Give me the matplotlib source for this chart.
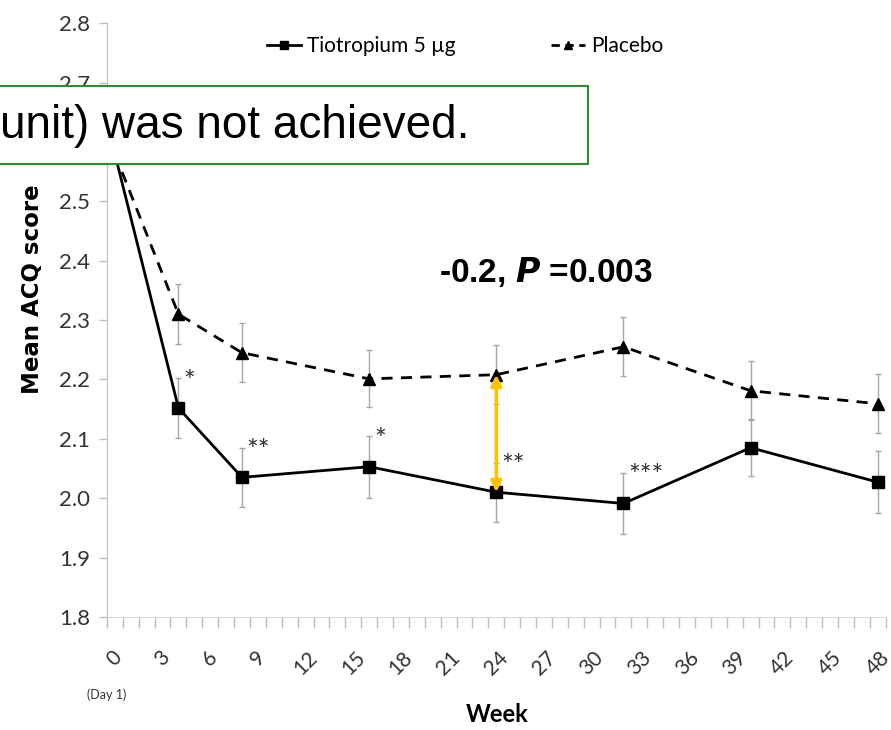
import numpy as np
import matplotlib
matplotlib.use("Agg")
import matplotlib.pyplot as plt
from matplotlib.patches import Rectangle
from matplotlib.lines import Line2D
from matplotlib.ticker import FixedLocator

# ACQ score over the 48-week treatment period
weeks = [0, 4, 8, 16, 24, 32, 40, 48]
tiotropium = [2.58, 2.152, 2.035, 2.053, 2.010, 1.991, 2.085, 2.027]
placebo = [2.58, 2.310, 2.245, 2.201, 2.208, 2.255, 2.181, 2.159]
tio_se = [0, 0.05, 0.05, 0.052, 0.05, 0.052, 0.048, 0.052]
pla_se = [0, 0.05, 0.05, 0.048, 0.05, 0.05, 0.05, 0.05]

# significance marks next to the tiotropium error bars
star_weeks = [4, 8, 16, 24, 32]
star_labels = ["*", "**", "*", "**", "***"]

tick_weeks = list(range(0, 49, 3))
diff_text_week = 24

narrow = ["Liberation Sans Narrow", "Lato", "DejaVu Sans"]

fig = plt.figure(figsize=(8.91, 7.30), dpi=100)
ax = fig.add_axes([0.120, 0.155, 0.874, 0.813])

ax.errorbar(weeks, placebo, yerr=pla_se, fmt="none", ecolor="#a6a6a6",
            elinewidth=1.0, capsize=2.5, capthick=1.0, zorder=2)
ax.errorbar(weeks, tiotropium, yerr=tio_se, fmt="none", ecolor="#a6a6a6",
            elinewidth=1.0, capsize=2.5, capthick=1.0, zorder=2)
ax.plot(weeks, placebo, color="black", lw=2.0, ls=(0, (4, 3)),
        marker="^", ms=8, zorder=3)
ax.plot(weeks, tiotropium, color="black", lw=2.0, marker="s", ms=8, zorder=3)

for w, s in zip(star_weeks, star_labels):
    i = weeks.index(w)
    ax.text(w + 0.3, tiotropium[i] + tio_se[i] - 0.008, s, fontsize=20,
            color="#333333", ha="left", va="center", family=narrow)

# difference at week 24
i24 = weeks.index(diff_text_week)
ax.annotate("", xy=(diff_text_week, tiotropium[i24]),
            xytext=(diff_text_week, placebo[i24]),
            arrowprops=dict(arrowstyle="<|-|>", color="#FFC000", lw=2.5,
                            mutation_scale=16, shrinkA=0, shrinkB=0),
            zorder=4)
fig.text(0.493, 0.627, r"-0.2, $\mathbfit{P}$ =0.003", fontsize=24,
         fontweight="bold", family=["Liberation Sans", "DejaVu Sans"],
         ha="left", va="center")

ax.set_xlim(-0.5, 48.5)
ax.set_ylim(1.8, 2.8)
ax.set_yticks(np.arange(1.8, 2.81, 0.1))
ax.set_yticklabels([f"{v:.1f}" for v in np.arange(1.8, 2.81, 0.1)],
                   family=narrow, fontsize=16, color="#333333")
ax.set_xticks(tick_weeks)
ax.set_xticklabels([str(w) for w in tick_weeks], rotation=45,
                   family=narrow, fontsize=15, color="#333333",
                   ha="center", va="top")
ax.tick_params(axis="x", which="major", length=0, pad=22)
ax.xaxis.set_minor_locator(FixedLocator(np.arange(-0.5, 48.6, 1.0)))
ax.tick_params(axis="x", which="minor", length=8, color="#bfbfbf", width=1)
ax.tick_params(axis="y", length=6, color="#bfbfbf", width=1, pad=6)

for side in ["top", "right"]:
    ax.spines[side].set_visible(False)
ax.spines["left"].set_color("#bfbfbf")
ax.spines["bottom"].set_color("#d9d9d9")

fig.text(0.036, 0.604, "Mean ACQ score", fontsize=16.5, fontweight="bold",
         family="DejaVu Sans", rotation=90, ha="center", va="center")
fig.text(0.558, 0.021, "Week", fontsize=17, fontweight="bold",
         family=narrow, ha="center", va="center")
fig.text(0.120, 0.048, "(Day 1)", fontsize=9, color="#333333",
         family=narrow, ha="center", va="center")

# legend along the top
handles = [Line2D([], [], color="black", lw=2, marker="s", ms=6),
           Line2D([], [], color="black", lw=2, ls=(0, (3, 2)), marker="^", ms=6)]
ax.legend(handles, ["Tiotropium 5 µg", "Placebo"], loc="center",
          bbox_to_anchor=(0.46, 0.962), ncol=2, frameon=False,
          handlelength=1.6, handletextpad=0.3, columnspacing=4.6,
          prop={"family": narrow, "size": 15})

# callout box over the upper left of the plot
fig.patches.append(Rectangle((-0.01, 0.775), 0.67, 0.107,
                             transform=fig.transFigure, facecolor="white",
                             edgecolor="#2e8b2e", lw=1.5, zorder=10))
fig.text(0.0, 0.828, "unit) was not achieved.", fontsize=33,
         family=["Liberation Sans", "DejaVu Sans"], ha="left", va="center",
         zorder=11)

fig.savefig("out.png", dpi=100)
